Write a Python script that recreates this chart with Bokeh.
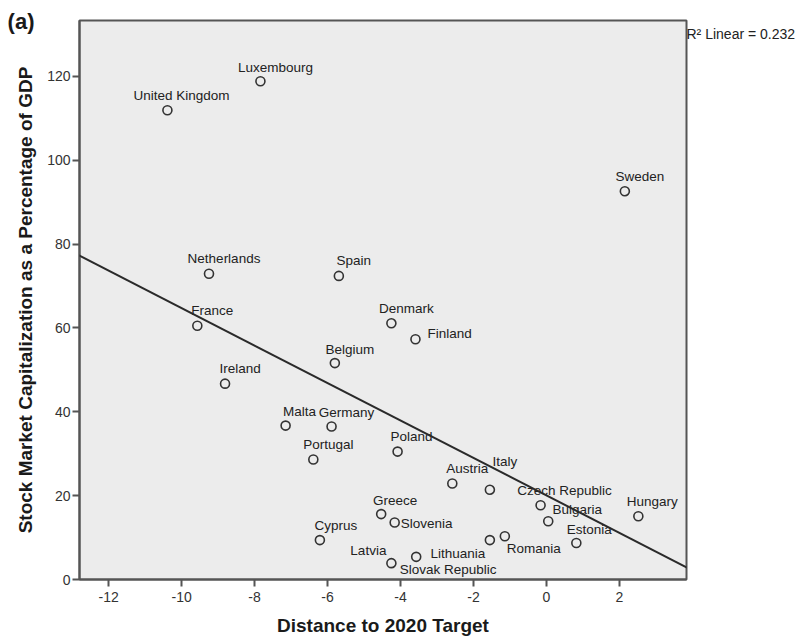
import numpy as np
from bokeh.plotting import figure
from bokeh.models import ColumnDataSource, Slope, Range1d, FixedTicker, LinearAxis
from bokeh.core.properties import value
from bokeh.embed import file_html
from bokeh.resources import INLINE

# ---- data ----
countries = ["United Kingdom", "Luxembourg", "Netherlands", "Spain", "Sweden", "France",
             "Ireland", "Belgium", "Malta", "Germany", "Portugal", "Greece", "Slovenia",
             "Cyprus", "Latvia", "Denmark", "Finland", "Poland", "Austria", "Italy",
             "Czech Republic", "Bulgaria", "Hungary", "Estonia", "Romania", "Lithuania",
             "Slovak Republic"]
distance = [-10.39, -7.84, -9.25, -5.69, 2.15, -9.57, -8.81, -5.80, -7.15, -5.89, -6.39,
            -4.53, -4.16, -6.21, -4.25, -4.25, -3.59, -4.08, -2.58, -1.55, -0.16, 0.05,
            2.52, 0.82, -1.14, -1.55, -3.57]
capitalization = [111.9, 118.8, 72.9, 72.4, 92.6, 60.5, 46.7, 51.6, 36.7, 36.5, 28.6,
                  15.6, 13.6, 9.4, 3.9, 61.1, 57.3, 30.5, 22.9, 21.4, 17.7, 13.9, 15.1,
                  8.7, 10.3, 9.4, 5.4]
x_ticks = [-12, -10, -8, -6, -4, -2, 0, 2]
x_tick_labels = ["-12", "-10", "-8", "-6", "-4", "-2", "0", "2"]
y_ticks = [0, 20, 40, 60, 80, 100, 120]
r2_text = "R\u00b2 Linear = 0.232"
panel_tag = "(a)"

# ---- label placement (screen pixel offsets, layout only) ----
label_style = {
    "United Kingdom": (14, -15, "center"), "Luxembourg": (15, -14, "center"),
    "Netherlands": (15, -15, "center"), "Spain": (15, -15, "center"),
    "Sweden": (15, -15, "center"), "France": (15, -15, "center"),
    "Ireland": (15, -15, "center"), "Belgium": (15, -14, "center"),
    "Malta": (14, -14, "center"), "Germany": (15, -14, "center"),
    "Portugal": (15, -15, "center"), "Greece": (14, -14, "center"),
    "Slovenia": (6, 1, "left"), "Cyprus": (16, -15, "center"),
    "Latvia": (-5, -13, "right"), "Denmark": (15, -15, "center"),
    "Finland": (12, -6, "left"), "Poland": (14, -15, "center"),
    "Austria": (15, -15, "center"), "Italy": (15, -28, "center"),
    "Czech Republic": (24, -15, "center"), "Bulgaria": (29, -12, "center"),
    "Hungary": (14, -15, "center"), "Estonia": (13, -14, "center"),
    "Romania": (29, 12, "center"), "Lithuania": (-32, 13, "center"),
    "Slovak Republic": (32, 13, "center"),
}

FONT = "Liberation Sans"
X0, X1 = -12.8, 3.84
Y0, Y1 = 0, 133.3
R2_Y = 130.2      # vertical placement of the R² note (axis units)
TAG_Y = 133.1     # vertical placement of the panel tag

p = figure(width=798, height=638, output_backend="svg", toolbar_location=None,
           x_range=Range1d(X0, X1), y_range=Range1d(Y0, Y1),
           min_border_left=79, min_border_right=111, min_border_top=20, min_border_bottom=58)

p.background_fill_color = "#ececec"
p.border_fill_color = "white"
p.outline_line_color = "#555555"
p.outline_line_width = 2
p.xgrid.visible = False
p.ygrid.visible = False

for ax, ticks in ((p.xaxis[0], x_ticks), (p.yaxis[0], y_ticks)):
    ax.ticker = FixedTicker(ticks=ticks)
    ax.minor_tick_line_color = None
    ax.major_tick_out = 7
    ax.major_tick_in = 0
    ax.major_tick_line_color = "#555555"
    ax.major_tick_line_width = 2
    ax.axis_line_color = "#555555"
    ax.axis_line_width = 2
    ax.major_label_text_font = FONT
    ax.major_label_text_font_size = "14px"
    ax.major_label_text_color = "#333333"
    ax.axis_label_text_font = FONT
    ax.axis_label_text_font_size = "19px"
    ax.axis_label_text_font_style = "bold"
    ax.axis_label_text_color = "#1a1a1a"

p.xaxis.major_label_overrides = dict(zip(x_ticks, x_tick_labels))
p.xaxis.axis_label = "Distance to 2020 Target"
p.xaxis.major_label_standoff = 5
p.yaxis.major_label_standoff = 2
p.xaxis.axis_label_standoff = 10

# outer left axis: carries the panel tag and the y title
outer = LinearAxis(ticker=FixedTicker(ticks=[TAG_Y]), major_label_overrides={TAG_Y: panel_tag},
                   axis_line_color=None, major_tick_line_color=None, minor_tick_line_color=None,
                   major_tick_out=0, major_tick_in=0, major_label_standoff=10,
                   major_label_text_font=FONT, major_label_text_font_size="22px",
                   major_label_text_font_style="bold", major_label_text_color="#1a1a1a",
                   axis_label="Stock Market Capitalization as a Percentage of GDP",
                   axis_label_text_font=FONT, axis_label_text_font_size="19px",
                   axis_label_text_font_style="bold", axis_label_text_color="#1a1a1a",
                   axis_label_standoff=-31)
p.add_layout(outer, "left")

# right axis: carries the R² note
r2_axis = LinearAxis(ticker=FixedTicker(ticks=[R2_Y]), major_label_overrides={R2_Y: r2_text},
                     axis_line_color=None, major_tick_line_color=None, minor_tick_line_color=None,
                     major_tick_out=0, major_tick_in=0, major_label_standoff=0,
                     major_label_text_font=FONT, major_label_text_font_size="14px",
                     major_label_text_color="#222222")
p.add_layout(r2_axis, "right")

# regression line from the data
slope, intercept = np.polyfit(distance, capitalization, 1)
p.add_layout(Slope(gradient=slope, y_intercept=intercept, line_color="#2a2a2a", line_width=2))

src = ColumnDataSource(dict(
    x=distance, y=capitalization, name=countries,
    dx=[label_style[c][0] for c in countries],
    dy=[label_style[c][1] for c in countries],
    align=[label_style[c][2] for c in countries],
))

p.scatter("x", "y", source=src, marker="circle", size=9, fill_color=None,
          line_color="#333333", line_width=1.6)
p.text("x", "y", text="name", source=src, x_offset="dx", y_offset="dy",
       text_align="align", text_baseline="middle", text_font=value(FONT),
       text_font_size="13.5px", text_color="#222222")

open("out.html", "w").write(file_html(p, INLINE))
